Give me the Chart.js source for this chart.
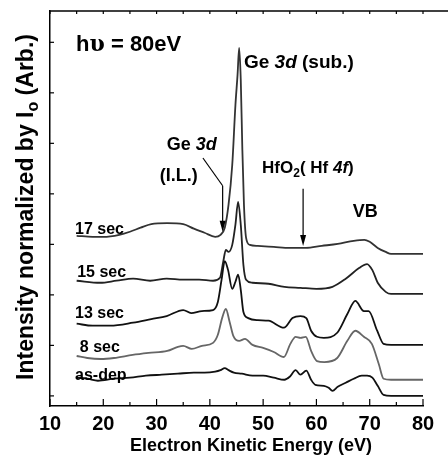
<!DOCTYPE html>
<html lang="en">
<head>
<meta charset="UTF-8">
<title>Ge 3d / HfO2 spectra</title>
<style>
body { margin: 0; background: #fff; }
#box { width: 448px; height: 462px; }
</style>
</head>
<body>
<div id="box"><canvas id="myChart" width="448" height="462"></canvas></div>

<script src="https://cdn.jsdelivr.net/npm/chart.js"></script>
<script>
// x: electron kinetic energy (eV), y: intensity (arb., curves offset)
const xTicks = [10, 20, 30, 40, 50, 60, 70, 80];
const yTicks = [0, 1, 2, 3, 4, 5, 6, 7];

const asDepE = [15,17,19,22,25,28,31,34,37,39,41,42,42.8,43.5,44.5,46,48,50,52,54,55,56.1,57,58.1,59,59.8,61.4,62.3,63,64,65.5,67,68.5,69.5,70.5,71.5,72.6,74,80];
const asDepI = [0.36,0.34,0.30,0.34,0.36,0.40,0.42,0.44,0.46,0.46,0.48,0.51,0.55,0.51,0.46,0.44,0.40,0.40,0.36,0.32,0.38,0.51,0.42,0.50,0.32,0.22,0.20,0.16,0.10,0.18,0.26,0.34,0.40,0.40,0.36,0.20,0.02,0,0];

const sec8E = [15,17,19.5,22,25.5,28.5,32,34,35,36.6,38.5,40.6,41.5,42.3,43,43.7,44.4,45.5,46.6,48,50,52,53.9,55.1,56.1,57,58,59,60.1,61.5,63.9,65.8,67.3,68.9,70.4,71.7,72.6,74,80];
const sec8I = [0.79,0.75,0.73,0.75,0.81,0.85,0.89,0.97,0.99,0.93,0.99,1.05,1.21,1.54,1.72,1.47,1.19,1.09,1.13,1.01,0.95,0.87,0.77,1.03,1.17,1.15,1.17,0.89,0.69,0.67,0.75,1.09,1.29,1.17,1.03,0.63,0.34,0.32,0.32];

const sec13E = [15,18,21.3,25.6,29,31.9,35,36.5,38.5,40.6,41.5,42.2,42.8,43.4,44.2,44.8,45.3,45.8,46.3,47.2,49,51,53.9,55.5,57,58.1,59,60.1,61.4,63.9,65.8,67.3,68.9,69.8,71.4,72.6,74,80];
const sec13I = [1.43,1.39,1.39,1.45,1.52,1.58,1.70,1.64,1.68,1.70,1.86,2.30,2.67,2.50,2.12,2.26,2.40,2.10,1.66,1.54,1.50,1.49,1.35,1.54,1.58,1.54,1.29,1.17,1.15,1.25,1.62,1.88,1.68,1.68,1.29,1.03,1.01,1.01];

const sec15E = [15,19.4,22.5,25.6,28.8,31.9,35,38,40.6,41.9,42.5,43,43.5,44.2,44.8,45.3,45.8,46.3,46.8,48,51,54,57,60,63,65.5,68,69.5,70.5,71.5,73,74,80];
const sec15I = [2.28,2.24,2.28,2.32,2.28,2.32,2.30,2.30,2.28,2.34,2.65,2.89,2.85,2.99,3.39,3.84,3.39,2.59,2.30,2.24,2.22,2.16,2.14,2.12,2.16,2.32,2.53,2.61,2.49,2.24,2.06,2.02,2.02];

const sec17E = [15,18,20,23,25,27,29,32,35,37,39,41,42,42.8,43.5,44.2,44.8,45.2,45.5,45.8,46.1,46.4,46.8,47.5,49,52,55,58,61,64,67,69,70,71.5,73,74,80];
const sec17I = [3.17,3.15,3.15,3.19,3.25,3.33,3.40,3.42,3.40,3.31,3.23,3.15,3.19,3.33,3.78,4.57,5.76,6.36,6.89,6.26,4.87,3.78,3.13,2.99,2.97,2.95,2.93,2.93,2.97,3.01,3.07,3.09,3.05,2.93,2.85,2.81,2.81];

// curve names with where the label sits (E, intensity)
const seriesNames = ['as-dep', '8 sec', '13 sec', '15 sec', '17 sec'];
const nameAt = [[14.7, 0.40], [15.6, 0.95], [14.7, 1.62], [15.1, 2.44], [14.7, 3.30]];
const seriesColors = ['#111', '#666', '#111', '#222', '#333'];

const FONT = '"Liberation Sans", Arial, sans-serif';

function pts(xs, ys) {
    return xs.map((v, i) => ({x: v, y: ys[i]}));
}

const allData = [pts(asDepE, asDepI), pts(sec8E, sec8I), pts(sec13E, sec13I), pts(sec15E, sec15I), pts(sec17E, sec17I)];

// draws a row of text pieces (bold / italic / sub) starting at x
function drawPieces(ctx, x, y, pieces) {
    let cx = x;
    pieces.forEach(p => {
        ctx.font = (p.italic ? 'italic ' : '') + 'bold ' + p.size + 'px ' + (p.fam || FONT);
        ctx.fillText(p.t, cx, y + (p.dy || 0));
        cx += ctx.measureText(p.t).width;
    });
    return cx - x;
}

function arrowDown(ctx, x, y0, y1) {
    ctx.beginPath(); ctx.moveTo(x, y0); ctx.lineTo(x, y1 - 8); ctx.stroke();
    ctx.beginPath();
    ctx.moveTo(x - 3, y1 - 11); ctx.lineTo(x + 3, y1 - 11); ctx.lineTo(x, y1);
    ctx.closePath(); ctx.fill();
}

const inkPlugin = {
    id: 'ink',
    afterDraw(chart) {
        const {ctx, chartArea: a, scales: {x, y}} = chart;
        ctx.save();
        ctx.strokeStyle = '#000';
        ctx.fillStyle = '#000';
        ctx.lineWidth = 1.5;

        // top frame line runs off the right edge
        ctx.beginPath(); ctx.moveTo(a.left, a.top); ctx.lineTo(chart.width, a.top); ctx.stroke();

        // inward ticks
        ctx.lineWidth = 1.2;
        for (let e = 10; e <= 80; e += 5) {
            const px = x.getPixelForValue(e);
            const len = (e % 10 === 0) ? 7 : 4;
            ctx.beginPath(); ctx.moveTo(px, a.bottom); ctx.lineTo(px, a.bottom - len); ctx.stroke();
            ctx.beginPath(); ctx.moveTo(px, a.top); ctx.lineTo(px, a.top + 3); ctx.stroke();
        }
        yTicks.forEach(v => {
            const py = y.getPixelForValue(v);
            ctx.beginPath(); ctx.moveTo(a.left, py); ctx.lineTo(a.left + 4, py); ctx.stroke();
        });

        // x title
        ctx.textBaseline = 'middle';
        ctx.textAlign = 'center';
        ctx.font = 'bold 18px ' + FONT;
        ctx.fillText('Electron Kinetic Energy (eV)', 251, 446);

        // y title with subscript o
        ctx.save();
        ctx.translate(33, 207);
        ctx.rotate(-Math.PI / 2);
        ctx.textAlign = 'left';
        ctx.textBaseline = 'alphabetic';
        const yt = [{t: 'Intensity normalized by I', size: 23}, {t: 'o', size: 16, dy: 5}, {t: ' (Arb.)', size: 23}];
        let w = 0;
        yt.forEach(p => { ctx.font = 'bold ' + p.size + 'px ' + FONT; w += ctx.measureText(p.t).width; });
        drawPieces(ctx, -w / 2, 0, yt);
        ctx.restore();

        ctx.textAlign = 'left';
        ctx.textBaseline = 'middle';

        // curve names
        seriesNames.forEach((s, i) => {
            ctx.font = 'bold 16px ' + FONT;
            ctx.fillText(s, x.getPixelForValue(nameAt[i][0]), y.getPixelForValue(nameAt[i][1]));
        });

        // photon energy
        drawPieces(ctx, x.getPixelForValue(14.9), y.getPixelForValue(6.95),
            [{t: 'h', size: 22}, {t: '\u03c5', size: 22, fam: '"DejaVu Serif", serif'}, {t: ' = 80eV', size: 22}]);

        // Ge 3d substrate
        drawPieces(ctx, x.getPixelForValue(46.4), y.getPixelForValue(6.59),
            [{t: 'Ge ', size: 19}, {t: '3d', size: 19, italic: true}, {t: ' (sub.)', size: 19}]);

        // Ge 3d interlayer
        drawPieces(ctx, x.getPixelForValue(31.9), y.getPixelForValue(4.97),
            [{t: 'Ge ', size: 18}, {t: '3d', size: 18, italic: true}]);
        drawPieces(ctx, x.getPixelForValue(30.6), y.getPixelForValue(4.36), [{t: '(I.L.)', size: 18}]);

        ctx.lineWidth = 1.2;
        ctx.beginPath();
        ctx.moveTo(x.getPixelForValue(38.7), y.getPixelForValue(4.71));
        ctx.lineTo(x.getPixelForValue(42.4), y.getPixelForValue(4.16));
        ctx.stroke();
        arrowDown(ctx, x.getPixelForValue(42.4), y.getPixelForValue(4.16), y.getPixelForValue(3.25));

        // HfO2 (Hf 4f)
        drawPieces(ctx, x.getPixelForValue(49.8), y.getPixelForValue(4.51),
            [{t: 'HfO', size: 17}, {t: '2', size: 12, dy: 6}, {t: '( Hf ', size: 17}, {t: '4f', size: 17, italic: true}, {t: ')', size: 17}]);
        arrowDown(ctx, x.getPixelForValue(57.5), y.getPixelForValue(4.10), y.getPixelForValue(2.97));

        // valence band
        drawPieces(ctx, x.getPixelForValue(66.8), y.getPixelForValue(3.64), [{t: 'VB', size: 18}]);

        ctx.restore();
    }
};

const ctx = document.getElementById('myChart');

let chart = new Chart(ctx, {
    type: 'line',
    data: {
        datasets: allData.map((d, i) => ({
            label: seriesNames[i],
            data: d,
            borderColor: seriesColors[i],
            borderWidth: 1.8,
            pointRadius: 0,
            fill: false,
            cubicInterpolationMode: 'monotone'
        }))
    },
    options: {
        responsive: false,
        animation: false,
        layout: { padding: { left: 0, right: 25, top: 11, bottom: 0 } },
        plugins: { legend: { display: false }, tooltip: { enabled: false } },
        scales: {
            x: {
                type: 'linear',
                min: 10,
                max: 80,
                afterBuildTicks: s => { s.ticks = xTicks.map(v => ({value: v})); },
                afterFit: s => { s.height = 56; },
                grid: { display: false, drawTicks: false },
                border: { display: true, color: '#000', width: 1.5 },
                ticks: { color: '#000', padding: 6, maxRotation: 0, font: { family: FONT, size: 20, weight: 'bold' } }
            },
            y: {
                min: -0.2,
                max: 7.62,
                afterFit: s => { s.width = 50; },
                grid: { display: false, drawTicks: false },
                border: { display: true, color: '#000', width: 1.5 },
                ticks: { display: false }
            }
        }
    },
    plugins: [inkPlugin]
});
</script>
</body>
</html>
